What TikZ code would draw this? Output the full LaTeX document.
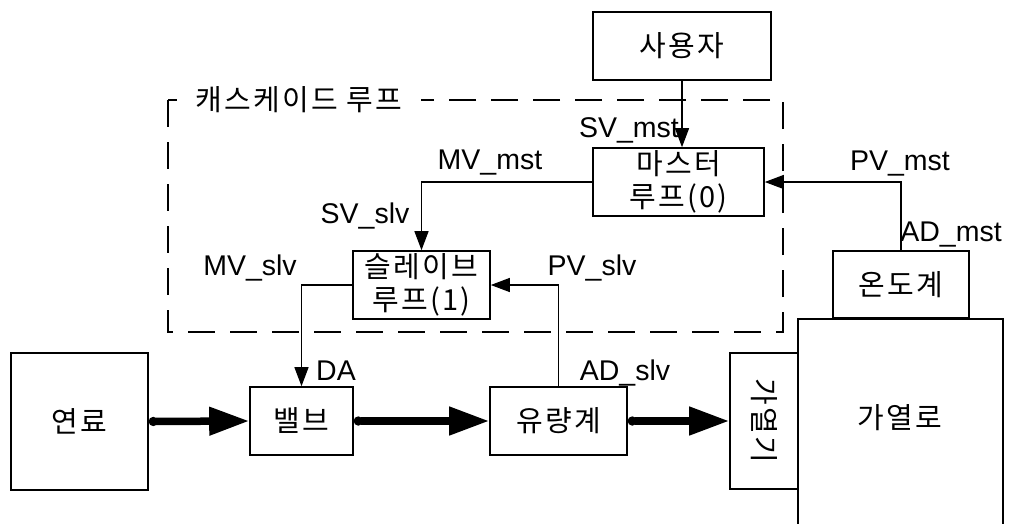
\documentclass[tikz,border=0pt]{standalone}
\usepackage{fontspec}
\setmainfont{Liberation Sans}
\newfontfamily\krfam[LetterSpace=8]{Noto Sans CJK KR}
\usetikzlibrary{arrows.meta}
\newcommand{\krfont}{\krfam\fontsize{29}{33}\selectfont}
\newcommand{\lbfont}{\fontsize{28.5}{32}\selectfont}
\tikzset{
  blk/.style={draw, line width=1.6pt, align=center, inner sep=0pt, font=\krfont},
  sig/.style={line width=1.3pt, -{Triangle[length=19pt,width=14pt]}},
  pipe/.style={line width=7.5pt, {Circle[length=9pt]}-{Triangle[length=40pt,width=27pt]}},
  lbl/.style={font=\lbfont, inner sep=0pt},
}

\begin{document}
\begin{tikzpicture}[x=1pt, y=-1pt]
    \useasboundingbox (0,0) rectangle (1010,523);

    % cascade loop frame
    \draw[line width=1.3pt, dash pattern=on 27pt off 15pt] (168,100) rectangle (783,332);
    \node (cascade) [font=\krfont, fill=white, minimum width=244pt, inner sep=0pt] at (299,100) {캐스케이드 루프};

    % blocks
    \node (user)   [blk, minimum width=178pt, minimum height=68pt] at (682,46) {사용자};
    \node (master) [blk, minimum width=171pt, minimum height=68pt] at (678.5,182) {마스터\\루프(0)};
    \node (slave)  [blk, minimum width=137pt, minimum height=68pt] at (421.5,285) {슬레이브\\루프(1)};
    \node (thermo) [blk, minimum width=136pt, minimum height=67pt] at (901,284.5) {온도계};
    \node (fuel)   [blk, minimum width=137pt, minimum height=137pt] at (79.5,421.5) {연료};
    \node (valve)  [blk, minimum width=103pt, minimum height=68pt] at (301.5,421) {밸브};
    \node (flow)   [blk, minimum width=137pt, minimum height=68pt] at (558.5,421) {유량계};
    \node (heater) [blk, rotate=-90, minimum width=136pt, minimum height=68pt] at (764,421) {가열기};

    % furnace, open at the bottom edge
    \draw[line width=1.6pt] (798,545) rectangle (1003,319);
    \node (furnace) [font=\krfont] at (900,418) {가열로};

    % signals
    \draw[sig] (user.south) -- (user.south |- master.north);
    \draw[sig] (master.west) -| (slave.north);
    \draw[sig] (thermo.north) |- (master.east);
    \draw[sig] (flow.north) |- (slave.east);
    \draw[sig] (slave.west) -| (valve.north);

    % material flow
    \draw[pipe] (fuel.east) -- (valve.west);
    \draw[pipe] (valve.east) -- (flow.west);
    \draw[pipe] (flow.east) -- (heater.south);

    % signal labels
    \node (svmst) [lbl] at (629,130) {SV\_mst};
    \node (mvmst) [lbl] at (490,163) {MV\_mst};
    \node (pvmst) [lbl] at (900,164) {PV\_mst};
    \node (admst) [lbl] at (951,235) {AD\_mst};
    \node (svslv) [lbl] at (365,216) {SV\_slv};
    \node (mvslv) [lbl] at (250,268) {MV\_slv};
    \node (pvslv) [lbl] at (592,268) {PV\_slv};
    \node (adslv) [lbl] at (625,373) {AD\_slv};
    \node (da)    [lbl] at (336,371) {DA};
\end{tikzpicture}
\end{document}
